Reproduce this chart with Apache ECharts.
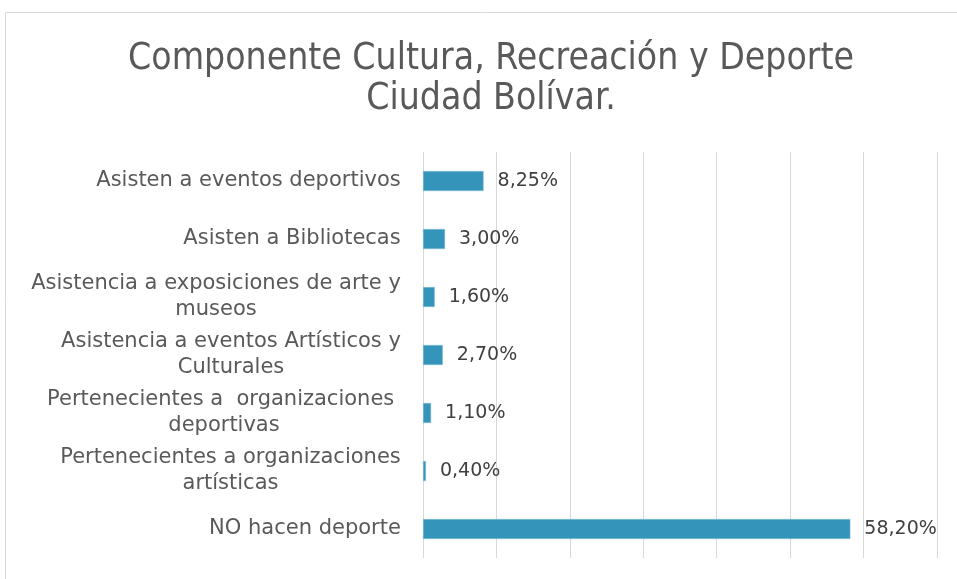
<!DOCTYPE html>
<html>
<head>
<meta charset="utf-8">
<script src="https://cdn.jsdelivr.net/npm/echarts@6/dist/echarts.min.js"></script>
<style>
  html, body { margin: 0; padding: 0; background: #fff; }
  #chart { width: 957px; height: 579px; }
</style>
</head>
<body>
<div id="chart"></div>
<script>
// categories, top to bottom (wrapped as in the original)
const categories = [
  "Asisten a eventos deportivos",
  "Asisten a Bibliotecas",
  "Asistencia a exposiciones de arte y\nmuseos",
  "Asistencia a eventos Artísticos y\nCulturales",
  "Pertenecientes a  organizaciones \ndeportivas",
  "Pertenecientes a organizaciones\nartísticas",
  "NO hacen deporte"
];
const values = [8.25, 3.00, 1.60, 2.70, 1.10, 0.40, 58.20];
const axisMax = 70;
const axisStep = 10;

const labelSize = 21;

// measure the widest line of each label so the lines can be centred
const ctx = document.createElement("canvas").getContext("2d");
ctx.font = labelSize + "px 'DejaVu Sans'";
const rich = {};
categories.forEach((c, i) => {
  const w = Math.max(...c.split("\n").map(s => ctx.measureText(s).width));
  rich["c" + i] = { width: Math.ceil(w), align: "center", lineHeight: 26,
    fontSize: labelSize, fontFamily: "DejaVu Sans", color: "#595959" };
});

const chart = echarts.init(document.getElementById("chart"));

const option = {
  backgroundColor: "#fff",
  title: {
    text: "Componente Cultura, Recreación y Deporte\nCiudad Bolívar.",
    left: 486,
    top: 34,
    textAlign: "center",
    textStyle: {
      fontFamily: "DejaVu Sans Condensed",
      fontWeight: "normal",
      fontSize: 37,
      lineHeight: 40,
      color: "#595959"
    }
  },
  graphic: [{
    type: "rect",
    shape: { x: 5.5, y: 12.5, width: 1000, height: 1000 },
    style: { fill: null, stroke: "#d9d9d9", lineWidth: 1 },
    silent: true
  }],
  grid: { left: 423, right: 20, top: 152, bottom: 21, containLabel: false },
  xAxis: {
    type: "value",
    min: 0,
    max: axisMax,
    interval: axisStep,
    axisLine: { show: false },
    axisTick: { show: false },
    axisLabel: { show: false },
    splitLine: { lineStyle: { color: "#d9d9d9", width: 1 } }
  },
  yAxis: {
    type: "category",
    data: categories,
    inverse: true,
    axisLine: { show: false },
    axisTick: { show: false },
    axisLabel: {
      margin: 22,
      formatter: (val) => {
        const i = categories.indexOf(val);
        return val.split("\n").map(s => "{c" + i + "|" + s + "}").join("\n");
      },
      rich: rich
    }
  },
  series: [{
    type: "bar",
    data: values,
    barWidth: 20,
    itemStyle: { color: "#3494ba", borderColor: "#8cc3da", borderWidth: 0.5 },
    label: {
      show: true,
      position: "right",
      distance: 14,
      fontFamily: "DejaVu Sans",
      fontSize: 19,
      color: "#404040",
      formatter: p => p.value.toFixed(2).replace(".", ",") + "%"
    }
  }]
};

chart.setOption(option);
</script>
</body>
</html>
